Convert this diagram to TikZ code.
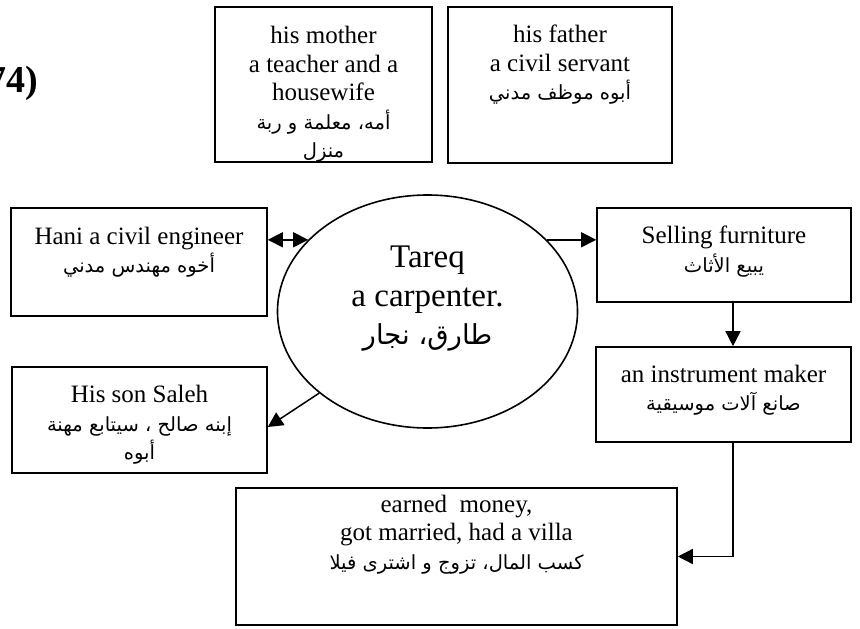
\documentclass[tikz,border=0pt]{standalone}
\usepackage{fontspec}
\setmainfont{Liberation Serif}
\newfontfamily\arabicfont[Script=Arabic]{DejaVu Sans}
\TeXXeTstate=1
\usetikzlibrary{shapes.geometric,arrows.meta,calc}
\newcommand\artxt[1]{{\arabicfont\fontsize{19.5}{28.5}\selectfont\beginR #1\endR}}
\newcommand\artxtbig[1]{{\arabicfont\fontsize{27.5}{36}\selectfont\beginR #1\endR}}
\newcommand\normfont{\fontsize{25}{28.5}\selectfont}
\newcommand\bigfont{\fontsize{33}{38.5}\selectfont}
\newcommand\lblfont{\fontsize{38}{40}\selectfont\bfseries}
\tikzset{
  boxnode/.style={draw, line width=1.6pt, rectangle, inner sep=0pt},
  txt/.style={anchor=north, inner sep=0pt, align=center, font=\normfont},
  conn/.style={line width=1.5pt, -{Triangle[length=15pt,width=15pt]}},
  dconn/.style={line width=1.5pt, {Triangle[length=15pt,width=15pt]}-{Triangle[length=15pt,width=15pt]}}
}
\begin{document}
\begin{tikzpicture}[x=1pt,y=-1pt]
\useasboundingbox (0,0) rectangle (860,629);
\fill[white] (0,0) rectangle (860,629);

\node[anchor=base east, inner sep=0pt, font=\lblfont] (lbl) at (38,92) {74)};

% boxes
\node[boxnode, minimum width=217pt, minimum height=155pt] (mother) at (323.5,84.5) {};
\node[boxnode, minimum width=224pt, minimum height=156pt] (father) at (560,85) {};
\node[boxnode, minimum width=256pt, minimum height=108pt] (hani) at (139,262) {};
\node[boxnode, minimum width=255pt, minimum height=106pt] (son) at (139.5,420) {};
\node[boxnode, minimum width=254pt, minimum height=94pt] (selling) at (724,255) {};
\node[boxnode, minimum width=255pt, minimum height=95pt] (instr) at (723.5,394.5) {};
\node[boxnode, minimum width=441pt, minimum height=137pt] (earned) at (456.5,556.5) {};
\node[draw, line width=1.6pt, ellipse, inner sep=0pt, minimum width=300pt, minimum height=233pt] (tareq) at (427.5,311.5) {};

% texts
\node[txt] (mothert) at (323.5,26) {his mother\\a teacher and a\\housewife\\\artxt{أمه، معلمة و ربة}\\\artxt{منزل}};
\node[txt] (fathert) at (560,25) {his father\\a civil servant\\\artxt{أبوه موظف مدني}};
\node[txt] (hanit) at (139,226.5) {Hani a civil engineer\\\artxt{أخوه مهندس مدني}};
\node[txt] (sont) at (139.5,385) {His son Saleh\\\artxt{إبنه صالح ، سيتابع مهنة}\\\artxt{أبوه}};
\node[txt] (sellingt) at (724,226) {Selling furniture\\\artxt{يبيع الأثاث}};
\node[txt] (instrt) at (723.5,364.6) {an instrument maker\\\artxt{صانع آلات موسيقية}};
\node[txt] (earnedt) at (456.5,494.7) {earned\ \ money,\\got married, had a villa\\\artxt{كسب المال، تزوج و اشترى فيلا}};
\node[txt, font=\bigfont] (tareqt) at (427.5,246) {Tareq\\a carpenter.\\\artxtbig{طارق، نجار}};

% connectors
\draw[dconn] (tareq.149 -| hani.east) -- (tareq.149);
\draw[conn] (tareq.31) -- (tareq.31 -| selling.west);
\draw[conn] (tareq.217) -- ([yshift=-7pt]son.east);
\draw[conn] ([xshift=9pt]selling.south) -- ([xshift=9pt]selling.south |- instr.north);
\draw[conn] ([xshift=9.5pt]instr.south) |- (earned.east);
\end{tikzpicture}
\end{document}
